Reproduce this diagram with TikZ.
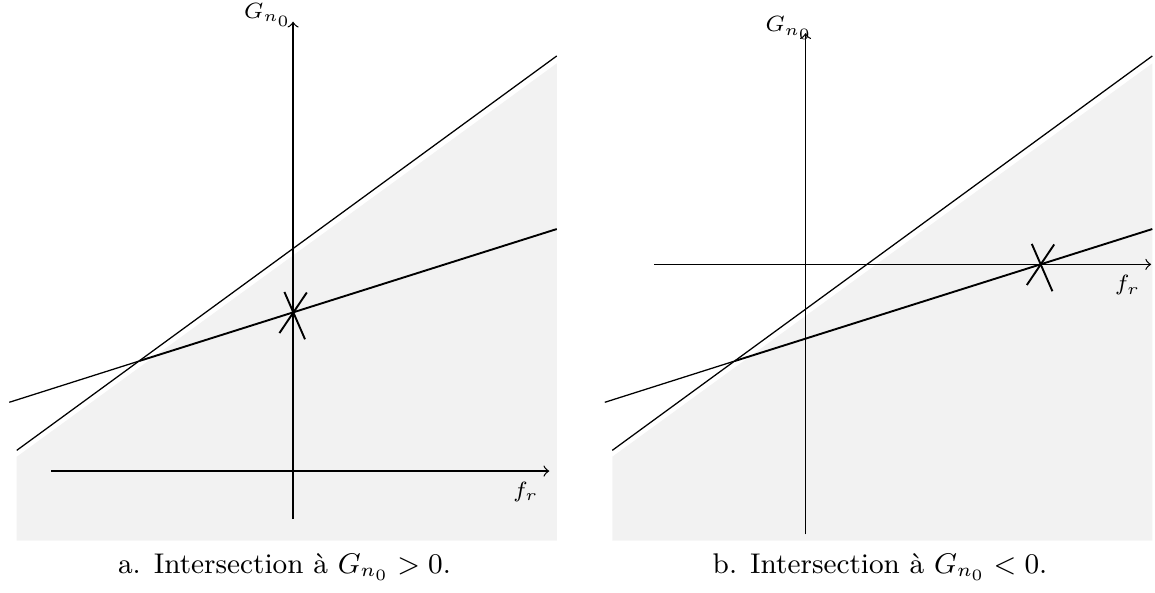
\documentclass[tikz,border=0pt]{standalone}
\usepackage{tikz}

\begin{document}
\begin{tikzpicture}[scale=1.0,
  zone/.style={fill=black!5},
  lien/.style={semithick},
  etiq/.style={font=\scriptsize},
  legende/.style={font=\fontsize{9}{11}\selectfont}]
\useasboundingbox (0,0) rectangle (12.833,6.578);

\begin{scope}
\fill[zone] (0.186,1.503) -- (6.186,5.874) -- (6.186,0.570) -- (0.186,0.570) -- cycle;
\draw[->] (0.567,1.344) -- (6.103,1.344) node[below left,etiq] (fra) {$f_r$};
\draw[->] (3.256,0.811) -- (3.256,6.337);
\node[etiq] (ga) at (2.974,6.411) {$G_{n_0}$};
\draw (0.186,1.574) -- (6.186,5.956);
\draw (0.103,2.108) -- (1.548,2.567);
\draw[lien] (1.548,2.567) -- (6.186,4.033);
\coordinate (pa) at (3.256,3.106);
\draw[lien] (pa) ++(-0.096,0.228) -- ++(0.229,-0.526);
\draw[lien] (pa) ++(0.153,0.222) -- ++(-0.304,-0.451);
\node[legende] (capa) at (3.161,0.278) {a. Intersection à $G_{n_0}>0$.};
\end{scope}

\begin{scope}[xshift=6.617cm]
\fill[zone] (0.186,1.503) -- (6.186,5.874) -- (6.186,0.570) -- (0.186,0.570) -- cycle;
\draw[->] (0.65,3.640) -- (6.173,3.640) node[below left,etiq] (frb) {$f_r$};
\draw[->] (2.333,0.64) -- (2.333,6.209);
\node[etiq] (gb) at (2.150,6.263) {$G_{n_0}$};
\draw (0.186,1.574) -- (6.186,5.956);
\draw (0.103,2.108) -- (1.548,2.567);
\draw[lien] (1.548,2.567) -- (6.186,4.033);
\coordinate (pb) at (4.943,3.640);
\draw[lien] (pb) ++(-0.096,0.228) -- ++(0.229,-0.526);
\draw[lien] (pb) ++(0.153,0.222) -- ++(-0.304,-0.451);
\node[legende] (capb) at (3.161,0.278) {b. Intersection à $G_{n_0}<0$.};
\end{scope}
\end{tikzpicture}
\end{document}
